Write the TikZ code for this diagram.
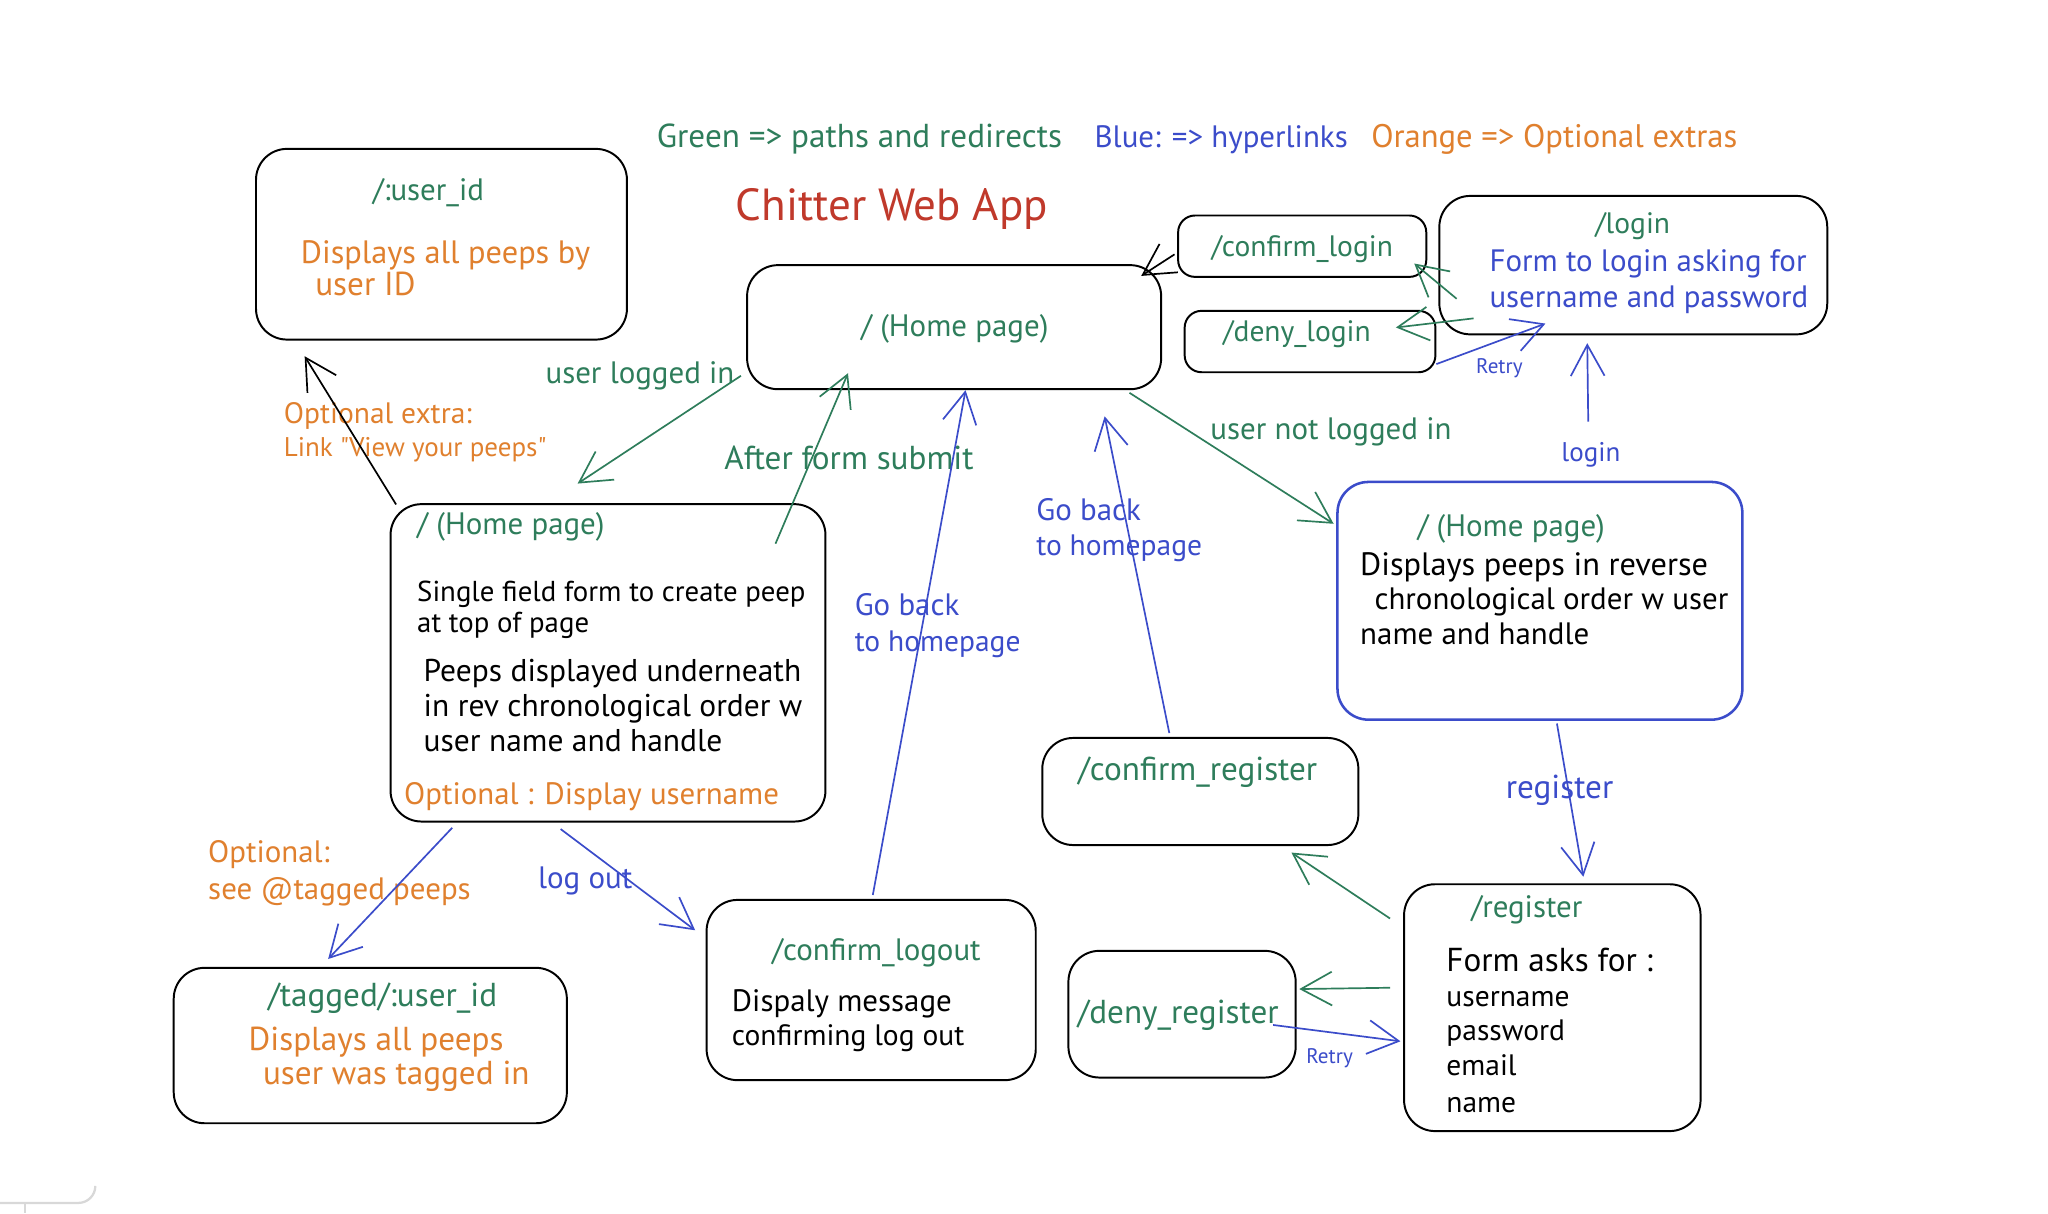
\documentclass[tikz,border=0pt]{standalone}
\usepackage{fontspec}
\setmainfont{PT Sans}
\usetikzlibrary{arrows.meta,calc,fit}
\definecolor{cgreen}{HTML}{2E7D5B}
\definecolor{cblue}{HTML}{3B4CCA}
\definecolor{corange}{HTML}{E0802E}
\definecolor{cred}{HTML}{C0392B}
\definecolor{cgray}{HTML}{D8D8D8}
\begin{document}
\begin{tikzpicture}[x=0.01633cm,y=-0.01633cm,
  box/.style={draw=black, line width=0.7pt, rounded corners=11pt, inner sep=0pt},
  tl/.style={inner sep=0pt, anchor=west, text height=1.9ex, text depth=0.3ex},
  tc/.style={inner sep=0pt, anchor=center, text height=1.9ex, text depth=0.3ex},
  fs/.style={font=\fontsize{10.25}{12}\selectfont},
  fn/.style={font=\fontsize{10.5}{12}\selectfont},
  fm/.style={font=\fontsize{11}{13}\selectfont},
  fb/.style={font=\fontsize{11.8}{14}\selectfont},
  fl/.style={font=\fontsize{11.2}{13}\selectfont},
  fx/.style={font=\fontsize{7.5}{9}\selectfont},
  arr/.style={line width=0.6pt, -{Straight Barb[length=11pt,width=12pt]}},
  garr/.style={arr, draw=cgreen},
  barr/.style={arr, draw=cblue},
  karr/.style={arr, draw=black}
]
\useasboundingbox (0,0) rectangle (1568,929);
\fill[white] (0,0) rectangle (1568,929);

% legend and title
\node[tc,font=\fontsize{11.8}{14}\selectfont,text=cgreen] (leg1) at (658,104) {Green => paths and redirects};
\node[tc,font=\fontsize{11}{13}\selectfont,text=cblue] (leg2) at (935,104) {Blue: => hyperlinks};
\node[tc,font=\fontsize{11.6}{14}\selectfont,text=corange] (leg3) at (1190,104) {Orange => Optional extras};
\node[tl,text=cred,font=\fontsize{16}{18}\selectfont] (title) at (563,160) {Chitter Web App};

% boxes
\node[box,fit={(196,114) (480,260)}] (b1) {};
\node[box,fit={(572,203) (889,298)}] (b2) {};
\node[box,rounded corners=6pt,fit={(902,165) (1092,212)}] (b3) {};
\node[box,rounded corners=6pt,fit={(907,238) (1099,285)}] (b4) {};
\node[box,fit={(1102,150) (1399,256)}] (b5) {};
\node[box,fit={(299,386) (632,629)}] (b6) {};
\node[box,draw=cblue,line width=0.9pt,fit={(1024,369) (1334,551)}] (b7) {};
\node[box,fit={(798,565) (1040,647)}] (b8) {};
\node[box,fit={(818,728) (992,825)}] (b9) {};
\node[box,fit={(1075,677) (1302,866)}] (b10) {};
\node[box,fit={(541,689) (793,827)}] (b11) {};
\node[box,fit={(133,741) (434,860)}] (b12) {};

% box texts
\node[tc,fm,text=cgreen] (t1a) at (328,145) {/:user\_id};
\node[tl,font=\fontsize{11.5}{13}\selectfont,text=corange] (t1b) at (230,193) {Displays all peeps by};
\node[tl,fb,text=corange] (t1c) at (241,218) {user ID};

\node[tc,fm,text=cgreen] (t2a) at (731,249) {/ (Home page)};
\node[tc,fn,text=cgreen] (t3a) at (997,188) {/confirm\_login};
\node[tc,fn,text=cgreen] (t4a) at (993,253) {/deny\_login};

\node[tc,fn,text=cgreen] (t5a) at (1250,170) {/login};
\node[tl,fm,text=cblue] (t5b) at (1140,199) {Form to login asking for};
\node[tl,fm,text=cblue] (t5c) at (1140,227) {username and password};

\node[tl,fm,text=cgreen] (t6a) at (319,401) {/ (Home page)};
\node[tl,fs] (t6b) at (319,452) {Single field form to create peep};
\node[tl,fs] (t6c) at (319,476) {at top of page};
\node[tl,fl] (t6d) at (324,513) {Peeps displayed underneath};
\node[tl,fl] (t6e) at (324,540) {in rev chronological order w};
\node[tl,fl] (t6f) at (324,567) {user name and handle};
\node[tl,fm,text=corange] (t6g) at (309,607) {Optional : Display username};

\node[tc,fm,text=cgreen] (t7a) at (1157,402) {/ (Home page)};
\node[tl,font=\fontsize{11.5}{13}\selectfont] (t7b) at (1041,432) {Displays peeps in reverse};
\node[tl,fm] (t7c) at (1052,458) {chronological order w user};
\node[tl,fm] (t7d) at (1041,485) {name and handle};

\node[tc,fb,text=cgreen] (t8a) at (917,589) {/confirm\_register};
\node[tc,fb,text=cgreen] (t9a) at (902,775) {/deny\_register};

\node[tc,fm,text=cgreen] (t10a) at (1169,694) {/register};
\node[tl,fb] (t10b) at (1107,735) {Form asks for :};
\node[tl,fn] (t10c) at (1107,762) {username};
\node[tl,fn] (t10d) at (1107,788) {password};
\node[tl,fn] (t10e) at (1107,815) {email};
\node[tl,fn] (t10f) at (1107,843) {name};

\node[tc,fm,text=cgreen] (t11a) at (671,727) {/confirm\_logout};
\node[tl,fm] (t11b) at (560,766) {Dispaly message};
\node[tl,fn] (t11c) at (560,792) {confirming log out};

\node[tc,fb,text=cgreen] (t12a) at (293,762) {/tagged/:user\_id};
\node[tl,fb,text=corange] (t12b) at (190,796) {Displays all peeps};
\node[tl,fb,text=corange] (t12c) at (201,822) {user was tagged in};

% connector labels
\node[tl,fn,text=corange] (l1a) at (217,316) {Optional extra:};
\node[tl,font=\fontsize{9.6}{11}\selectfont,text=corange] (l1b) at (217,341) {Link \textquotedbl View your peeps\textquotedbl};
\node[tc,fm,text=cgreen] (l2) at (490,285) {user logged in};
\node[tc,fb,text=cgreen] (l3) at (650,351) {After form submit};
\node[tl,fm,text=cblue] (l4a) at (654,463) {Go back};
\node[tl,fn,text=cblue] (l4b) at (654,490) {to homepage};
\node[tl,fm,text=cblue] (l5a) at (793,390) {Go back};
\node[tl,fn,text=cblue] (l5b) at (793,417) {to homepage};
\node[tc,fm,text=cgreen] (l6) at (1019,328) {user not logged in};
\node[tc,font=\fontsize{9.6}{11}\selectfont,text=cblue] (l7) at (1218,345) {login};
\node[tc,fx,text=cblue] (l10) at (1148,277) {Retry};
\node[tc,fb,text=cblue] (l12) at (1194,603) {register};
\node[tc,fx,text=cblue] (l15) at (1018,806) {Retry};
\node[tl,fm,text=corange] (l16a) at (159,652) {Optional:};
\node[tl,fm,text=corange] (l16b) at (159,680) {see @tagged peeps};
\node[tc,fm,text=cblue] (l17) at (448,672) {log out};

% connectors
\draw[karr] ($(b6.north west)+(5,1)$) -- ($(b1.south west)+(38,12)$);
\draw[garr] ($(b2.south west)+(-4,-11)$) -- ($(b6.north west)+(144,-15)$);
\draw[garr] ($(b6.north east)+(-39,31)$) -- ($(b2.south west)+(78,-13)$);
\draw[barr] ($(b11.north west)+(128,-3)$) -- ($(b2.south west)+(168,0)$);
\draw[barr] ($(b8.north west)+(98,-3)$) -- ($(b2.south east)+(-44,20)$);
\draw[garr] ($(b2.south east)+(-25,2)$) -- ($(b7.north west)+(-2,33)$);
\draw[barr] ($(l7.north)+(-2,-10)$) -- ($(b5.south west)+(114,6)$);
\draw[garr] ($(b5.south west)+(14,-28)$) -- ($(b3.south east)+(-10,-11)$);
\draw[garr] ($(b5.south west)+(27,-13)$) -- ($(b4.south east)+(-31,-35)$);
\draw[barr] ($(b4.south east)+(0,-7)$) -- ($(b5.south west)+(82,-9)$);
\draw[karr] ($(b3.south west)+(-2,-18)$) -- ($(b2.north east)+(-16,9)$);
\draw[barr] ($(b7.south west)+(169,2)$) -- ($(b10.north west)+(138,-5)$);
\draw[garr] ($(b10.north west)+(-10,27)$) -- ($(b8.south east)+(-52,5)$);
\draw[garr] ($(b10.north west)+(-10,80)$) -- ($(b9.north east)+(2,30)$);
\draw[barr] ($(b9.south east)+(-18,-41)$) -- ($(b10.north west)+(-2,121)$);
\draw[barr] ($(b6.south west)+(48,4)$) -- ($(b12.north west)+(119,-6)$);
\draw[barr] ($(b6.south west)+(131,5)$) -- ($(b11.north west)+(-8,24)$);

% partial grey element at lower left edge
\draw[cgray, line width=0.8pt] (0,921) -- (60,921) arc[start angle=90, end angle=0, radius=13];
\draw[cgray, line width=0.8pt] (19,921) -- (19,929);
\end{tikzpicture}
\end{document}
